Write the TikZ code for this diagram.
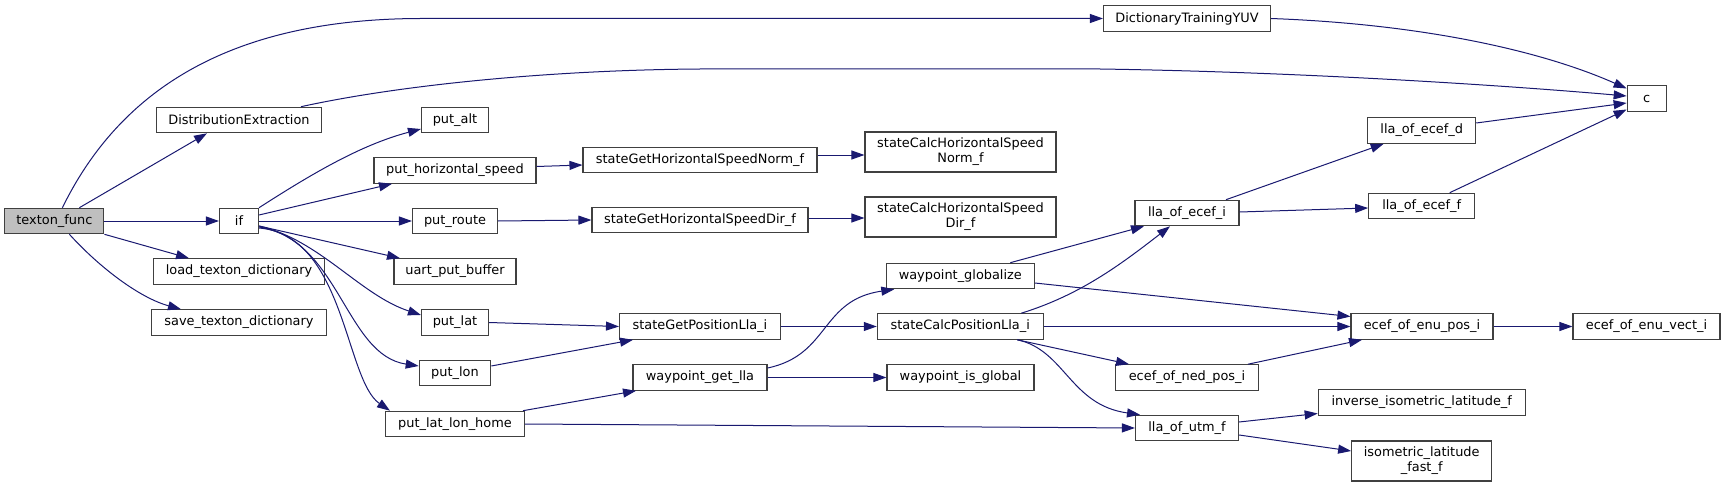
\documentclass[tikz,border=0pt]{standalone}
\usepackage{fontspec}
\setmainfont{DejaVu Sans}
\usetikzlibrary{arrows.meta,calc}
\definecolor{edgec}{HTML}{191970}
\definecolor{boxc}{HTML}{404040}
\definecolor{fillc}{HTML}{BFBFBF}
\begin{document}
\begin{tikzpicture}[x=1pt,y=-1pt,
  box/.style={draw=boxc, line width=1.1pt, rectangle, inner sep=0pt, minimum height=25.5pt,
    font=\fontsize{12.9}{15}\selectfont, align=center, fill=white},
  boxtwo/.style={box, minimum height=40pt},
  edge/.style={draw=edgec, line width=1pt, -{Triangle[length=13pt,width=9pt]}}]
\useasboundingbox (0,0) rectangle (1725,487);
% nodes
\node[box, fill=fillc, minimum width=99pt] (tf) at (54.4,221) {texton\_func};
\node[box, minimum width=165pt] (de) at (239,120) {DistributionExtraction};
\node[box, minimum width=39pt] (iff) at (239,221) {if};
\node[box, minimum width=171pt] (ltd) at (239,271.5) {load\_texton\_dictionary};
\node[box, minimum width=175pt] (std) at (239,322.5) {save\_texton\_dictionary};
\node[box, minimum width=167pt] (dty) at (1187,18.5) {DictionaryTrainingYUV};
\node[box, minimum width=67pt] (palt) at (455,120) {put\_alt};
\node[box, minimum width=162pt] (phs) at (455,170.5) {put\_horizontal\_speed};
\node[box, minimum width=85pt] (prt) at (455,221) {put\_route};
\node[box, minimum width=122pt] (upb) at (455,271.5) {uart\_put\_buffer};
\node[box, minimum width=67pt] (plat) at (455,322.5) {put\_lat};
\node[box, minimum width=71.5pt] (plon) at (455,373) {put\_lon};
\node[box, minimum width=139pt] (pllh) at (455,424) {put\_lat\_lon\_home};
\node[box, minimum width=234pt] (sghn) at (700,160) {stateGetHorizontalSpeedNorm\_f};
\node[box, minimum width=216pt] (sghd) at (700,220) {stateGetHorizontalSpeedDir\_f};
\node[box, minimum width=161pt] (sgpl) at (700,326.5) {stateGetPositionLla\_i};
\node[box, minimum width=134pt] (wgl) at (700,377.5) {waypoint\_get\_lla};
\node[boxtwo, minimum width=191pt] (schn) at (960.5,152) {stateCalcHorizontalSpeed\\Norm\_f};
\node[boxtwo, minimum width=191pt] (schd) at (960.5,217) {stateCalcHorizontalSpeed\\Dir\_f};
\node[box, minimum width=148pt] (wglob) at (960.3,276) {waypoint\_globalize};
\node[box, minimum width=166pt] (scpl) at (960.3,326.5) {stateCalcPositionLla\_i};
\node[box, minimum width=147pt] (wig) at (960.5,377.5) {waypoint\_is\_global};
\node[box, minimum width=104pt] (loei) at (1187,213) {lla\_of\_ecef\_i};
\node[box, minimum width=143pt] (eonp) at (1187,377.5) {ecef\_of\_ned\_pos\_i};
\node[box, minimum width=103pt] (lou) at (1187,428) {lla\_of\_utm\_f};
\node[box, minimum width=108pt] (loed) at (1421.7,130.5) {lla\_of\_ecef\_d};
\node[box, minimum width=106pt] (loef) at (1421.7,206) {lla\_of\_ecef\_f};
\node[box, minimum width=142pt] (eoep) at (1422,326.5) {ecef\_of\_enu\_pos\_i};
\node[box, minimum width=207pt] (iilf) at (1421.7,402.5) {inverse\_isometric\_latitude\_f};
\node[boxtwo, minimum width=140pt] (ilff) at (1421.7,461) {isometric\_latitude\\\_fast\_f};
\node[box, minimum width=39pt] (c) at (1646.7,98.5) {c};
\node[box, minimum width=147pt] (eoev) at (1646.5,326.5) {ecef\_of\_enu\_vect\_i};
% edges
\draw[edge] ([xshift=8]tf.north) .. controls (120,90) and (230,19) .. (420,18.5) -- (dty.west);
\draw[edge] ([xshift=62]de.north) .. controls (400,85) and (550,70) .. (700,69) -- (1100,69) .. controls (1300,72) and (1500,85) .. ([yshift=2.5]c.west);
\draw[edge] (dty.east) .. controls (1420,24) and (1540,50) .. ([yshift=10]c.west);
\draw[edge] ([yshift=7.5]loed.east) -- ([yshift=-4.5]c.west);
\draw[edge] ([xshift=28]loef.north) -- ([yshift=-11]c.west);
\draw[edge] ([xshift=25]tf.north) -- ([xshift=-32]de.south);
\draw[edge] (tf.east) -- (iff.west);
\draw[edge] (tf.south east) -- ([xshift=-50]ltd.north);
\draw[edge] ([xshift=15]tf.south) .. controls (100,268) and (140,298) .. ([xshift=-58]std.north);
\draw[edge] (iff.north east) .. controls (310,175) and (360,145) .. ([yshift=-9]palt.west);
\draw[edge] ([yshift=6]iff.east) -- ([xshift=-63]phs.south);
\draw[edge] (iff.east) -- (prt.west);
\draw[edge] ([yshift=-5]iff.east) -- ([xshift=-55]upb.north);
\draw[edge] ([yshift=-5]iff.east) .. controls (320,240) and (360,295) .. ([yshift=7.5]plat.west);
\draw[edge] ([yshift=-6]iff.east) .. controls (340,240) and (345,355) .. ([yshift=7]plon.west);
\draw[edge] ([yshift=-7]iff.east) .. controls (345,235) and (345,380) .. ([xshift=-65]pllh.north);
\draw[edge] ([yshift=4]phs.east) -- ([yshift=-5]sghn.west);
\draw[edge] (prt.east) -- (sghd.west);
\draw[edge] ([yshift=5]sghn.east) -- ([yshift=-3]schn.west);
\draw[edge] ([yshift=2]sghd.east) -- ([yshift=-1]schd.west);
\draw[edge] (plat.east) -- (sgpl.west);
\draw[edge] ([yshift=7]plon.east) -- ([xshift=-67]sgpl.south);
\draw[edge] ([xshift=68]pllh.north) -- ([xshift=-64]wgl.south);
\draw[edge] (pllh.east) -- (lou.west);
\draw[edge] (sgpl.east) -- (scpl.west);
\draw[edge] ([yshift=9.5]wgl.east) .. controls (830,355) and (820,300) .. ([xshift=-66]wglob.south);
\draw[edge] (wgl.east) -- (wig.west);
\draw[edge] ([xshift=50]wglob.north) -- ([xshift=-43]loei.south);
\draw[edge] ([yshift=-7]wglob.east) -- ([yshift=10]eoep.west);
\draw[edge] (scpl.east) -- (eoep.west);
\draw[edge] ([xshift=57]scpl.south) -- ([xshift=-58]eonp.north);
\draw[edge] ([xshift=57]scpl.south) .. controls (1065,350) and (1070,405) .. ([xshift=-47]lou.north);
\draw[edge] ([xshift=61]scpl.north) .. controls (1080,295) and (1120,265) .. ([xshift=-17]loei.south);
\draw[edge] ([xshift=61]eonp.north) -- ([xshift=-60]eoep.south);
\draw[edge] (eoep.east) -- (eoev.west);
\draw[edge] ([xshift=39]loei.north) -- ([xshift=-38]loed.south);
\draw[edge] ([yshift=1]loei.east) -- ([yshift=-2]loef.west);
\draw[edge] ([yshift=6]lou.east) -- ([yshift=-11]iilf.west);
\draw[edge] ([yshift=-7]lou.east) -- ([yshift=10]ilff.west);
\end{tikzpicture}
\end{document}
